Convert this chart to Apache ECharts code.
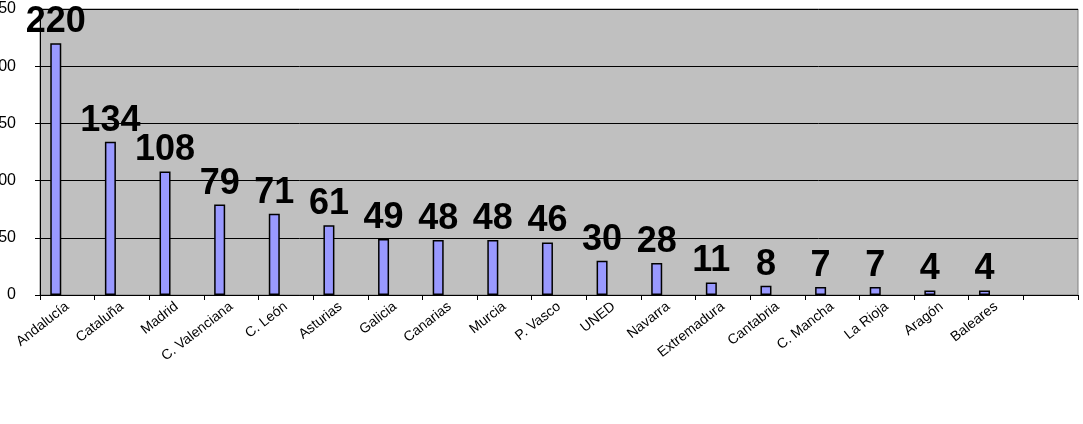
<!DOCTYPE html><html><head><meta charset="utf-8"><script src="https://cdn.jsdelivr.net/npm/echarts@6/dist/echarts.min.js"></script>
<style>html,body{margin:0;padding:0;background:#fff}#c{width:1083px;height:424px}</style></head><body><div id="c"></div><script>
const categories=["Andalucía","Cataluña","Madrid","C. Valenciana","C. León","Asturias","Galicia","Canarias","Murcia","P. Vasco","UNED","Navarra","Extremadura","Cantabria","C. Mancha","La Rioja","Aragón","Baleares",""];
const values=[220,134,108,79,71,61,49,48,48,46,30,28,11,8,7,7,4,4,null];
const yTicks=[0,50,100,150,200,250];
const chart=echarts.init(document.getElementById('c'));
chart.setOption({
 animation:false,
 grid:{left:40,right:5,top:9,bottom:129,containLabel:false,outerBoundsMode:'none',show:true,backgroundColor:'#c0c0c0',borderColor:'#808080',borderWidth:1},
 xAxis:{type:'category',data:categories,axisLine:{lineStyle:{color:'#000'}},axisTick:{show:true,lineStyle:{color:'#000'},length:5},
  axisLabel:{rotate:38,interval:0,fontFamily:'Liberation Sans',fontSize:14,color:'#000',margin:10}},
 yAxis:{type:'value',min:0,max:250,interval:50,axisLine:{show:true,lineStyle:{color:'#000'}},axisTick:{show:true,lineStyle:{color:'#000'}},
  splitLine:{lineStyle:{color:'#000',width:1}},axisLabel:{fontFamily:'Liberation Sans',fontSize:16,color:'#000',margin:24,formatter:v=>yTicks.includes(v)?String(v):''}},
 series:[{type:'bar',data:values,barWidth:11,barGap:'110%',itemStyle:{color:'#9999ff',borderColor:'#000',borderWidth:1.5},
  label:{show:true,position:'top',distance:3,fontFamily:'Liberation Sans',fontWeight:'bold',fontSize:36,color:'#000'}},
  {type:'bar',data:values.map(()=>0),barWidth:11,itemStyle:{opacity:0},silent:true}]
});
</script></body></html>
